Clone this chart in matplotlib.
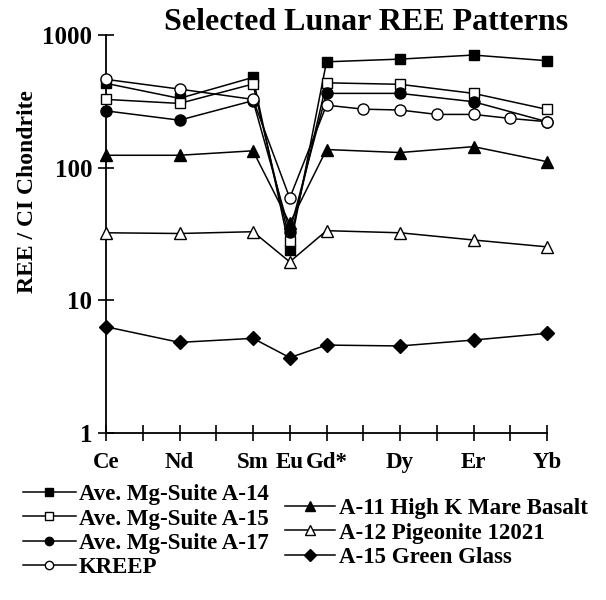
import matplotlib
matplotlib.use("Agg")
import matplotlib.pyplot as plt
from matplotlib.ticker import NullLocator, FixedLocator, FixedFormatter

# ---------------- data ----------------
elements = ["Ce", "Pr", "Nd", "Pm", "Sm", "Eu", "Gd*", "Tb", "Dy", "Ho", "Er", "Tm", "Yb"]
atomic_numbers = [58, 59, 60, 61, 62, 63, 64, 65, 66, 67, 68, 69, 70]
labelled = ["Ce", "Nd", "Sm", "Eu", "Gd*", "Dy", "Er", "Yb"]

main_x = [58, 60, 62, 63, 64, 66, 68, 70]          # Ce Nd Sm Eu Gd Dy Er Yb
kreep_x = [58, 60, 62, 63, 64, 65, 66, 67, 68, 69, 70]  # + Tb Ho Tm

mg_a14 = [432, 333, 479, 24, 628, 658, 706, 640]
mg_a15 = [327, 305, 427, 28, 436, 425, 363, 275]
mg_a17 = [268, 228, 320, 33, 363, 363, 314, 222]
kreep = [463, 391, 327, 59, 296, 276, 272, 252, 252, 235, 222]
a11_basalt = [124, 124, 134, 38, 137, 130, 144, 111]
a12_pigeonite = [32.3, 31.9, 32.9, 19.5, 33.5, 32.3, 28.5, 25.3]
a15_green_glass = [6.32, 4.82, 5.17, 3.7, 4.6, 4.53, 5.02, 5.64]

yticks = [1, 10, 100, 1000]
ytick_labels = ["1", "10", "100", "1000"]

title = "Selected Lunar REE Patterns"
ylabel = "REE / CI Chondrite"

# ---------------- figure ----------------
SERIF = ["Liberation Serif", "DejaVu Serif"]
plt.rcParams["font.family"] = SERIF
plt.rcParams["font.weight"] = "bold"

W, H = 606, 600
fig = plt.figure(figsize=(W / 100, H / 100), dpi=100)
x0, x1, ytop, ybot = 106, 547, 35, 433
ax = fig.add_axes([x0 / W, 1 - ybot / H, (x1 - x0) / W, (ybot - ytop) / H])

lw = 1.1
common = dict(color="black", lw=lw, clip_on=False, markeredgecolor="black", markeredgewidth=1.0)

l14, = ax.plot(main_x, mg_a14, marker="s", ms=7.5, markerfacecolor="black",
               label="Ave. Mg-Suite A-14", zorder=3, **common)
l15, = ax.plot(main_x, mg_a15, marker="s", ms=7.5, markerfacecolor="white",
               label="Ave. Mg-Suite A-15", zorder=3, **common)
l17, = ax.plot(main_x, mg_a17, marker="o", ms=8, markerfacecolor="black",
               label="Ave. Mg-Suite A-17", zorder=3, **common)
lk, = ax.plot(kreep_x, kreep, marker="o", ms=8, markerfacecolor="white",
              label="KREEP", zorder=4, **common)
l11, = ax.plot(main_x, a11_basalt, marker="^", ms=9, markerfacecolor="black",
               label="A-11 High K Mare Basalt", zorder=3, **common)
l12, = ax.plot(main_x, a12_pigeonite, marker="^", ms=9, markerfacecolor="white",
               label="A-12 Pigeonite 12021", zorder=3, **common)
lgg, = ax.plot(main_x, a15_green_glass, marker="D", ms=7.5, markerfacecolor="black",
               label="A-15 Green Glass", zorder=3, **common)

ax.set_yscale("log")
ax.set_ylim(1, 1000)
ax.set_xlim(58, 70)
ax.yaxis.set_major_locator(FixedLocator(yticks))
ax.yaxis.set_major_formatter(FixedFormatter(ytick_labels))
ax.yaxis.set_minor_locator(NullLocator())

ax.set_xticks(atomic_numbers)
ax.set_xticklabels([e if e in labelled else "" for e in elements])

for s in ["top", "right"]:
    ax.spines[s].set_visible(False)
for s in ["left", "bottom"]:
    ax.spines[s].set_linewidth(1.3)

ax.tick_params(axis="both", direction="inout", length=12, width=1.2, colors="black")
ax.tick_params(axis="x", pad=8, labelsize=16.5)
ax.tick_params(axis="y", pad=4, labelsize=18)
for t in ax.get_xticklabels() + ax.get_yticklabels():
    t.set_fontweight("bold")

fig.text(366 / W, 1 - 30 / H, title, ha="center", va="baseline",
         fontsize=23, fontweight="bold")
fig.text(28 / W, 1 - 192 / H, ylabel, ha="center", va="center", rotation=90,
         fontsize=17, fontweight="bold")

leg_kw = dict(frameon=False, borderpad=0, borderaxespad=0,
              handletextpad=0.15, labelspacing=0.15, markerscale=0.75,
              prop={"family": SERIF, "weight": "bold", "size": 16.5})
fig.legend(handles=[l14, l15, l17, lk], loc="upper left",
           bbox_to_anchor=(23 / W, 1 - 484 / H), handlelength=2.3, **leg_kw)
fig.legend(handles=[l11, l12, lgg], loc="upper left",
           bbox_to_anchor=(285 / W, 1 - 498 / H), handlelength=2.2, **leg_kw)

fig.savefig("out.png", dpi=100)
